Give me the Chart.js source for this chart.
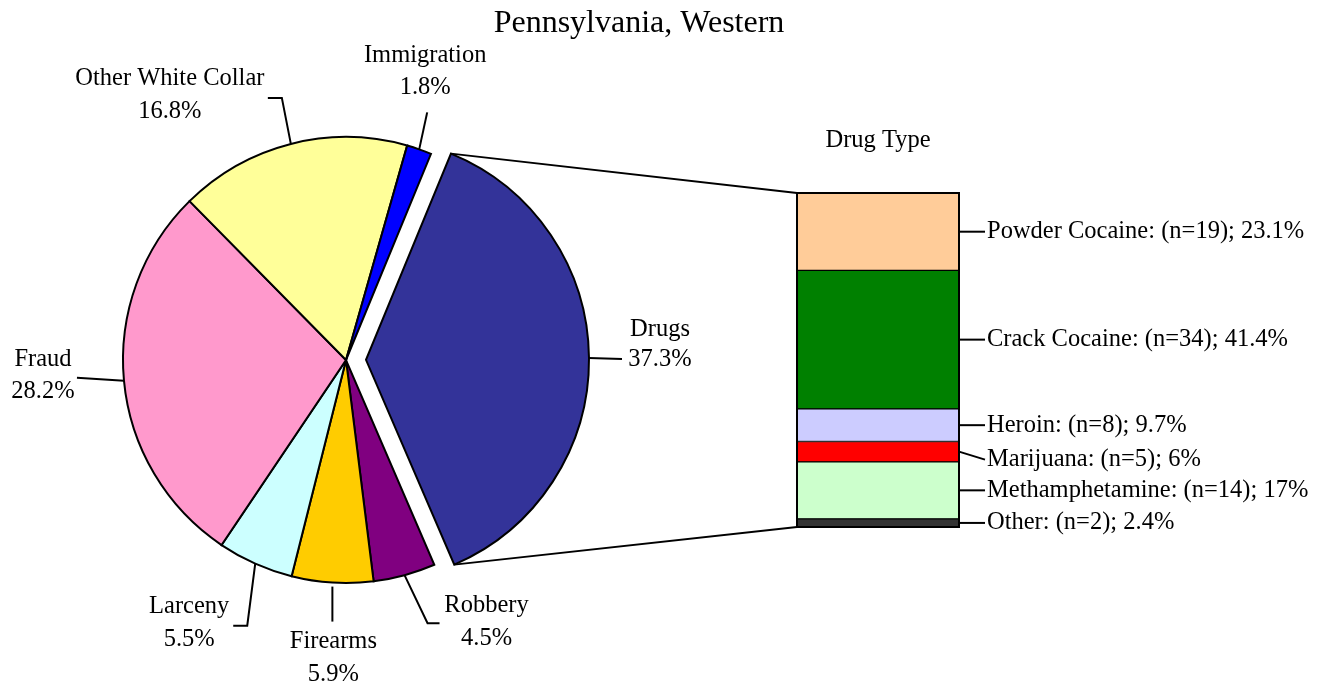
<!DOCTYPE html>
<html>
<head>
<meta charset="utf-8">
<script src="https://cdn.jsdelivr.net/npm/chart.js@4.4.1/dist/chart.umd.min.js"></script>
<style>
  html, body { margin: 0; padding: 0; background: #ffffff; }
  #wrap { position: relative; width: 1333px; height: 688px; }
  #wrap canvas { position: absolute; left: 0; top: 0; }
</style>
</head>
<body>
<div id="wrap">
  <canvas id="pie" width="1333" height="688"></canvas>
  <canvas id="bar" width="1333" height="688"></canvas>
</div>
<script>
// ---------- DATA ----------
const chartTitle = 'Pennsylvania, Western';
const offenseLabels = ['Drugs', 'Robbery', 'Firearms', 'Larceny', 'Fraud', 'Other White Collar', 'Immigration'];
const offensePercents = [37.3, 4.5, 5.9, 5.5, 28.2, 16.8, 1.8];

const drugTitle = 'Drug Type';
const drugTypes = ['Powder Cocaine', 'Crack Cocaine', 'Heroin', 'Marijuana', 'Methamphetamine', 'Other'];
const drugCounts = [19, 34, 8, 5, 14, 2];
const drugPercents = [23.1, 41.4, 9.7, 6, 17, 2.4];

// ---------- STYLE ----------
const FONT = '"Liberation Serif", "Times New Roman", serif';
const LABEL_FONT = '24.5px ' + FONT;
const offenseColors = ['#333399', '#800080', '#FFCC00', '#CCFFFF', '#FF99CC', '#FFFF99', '#0000FF'];
const explode = [20, 0, 0, 0, 0, 0, 0];
const drugColors = ['#FFCC99', '#008000', '#CCCCFF', '#FF0000', '#CCFFCC', '#333333'];
// label layout: text centre offset (dx, dy of first line) from slice anchor, line gap, leader polyline offsets
const pieLabelLayout = [
  { dx: 71,   dy: -28, gap: 30, leader: [[33, 1]] },
  { dx: 82,   dy: 30,  gap: 33, leader: [[23, 48], [35, 48]] },
  { dx: 1,    dy: 59,  gap: 33, leader: [[0, 4], [0, 39]], skipAnchor: true },
  { dx: -66,  dy: 43,  gap: 33, leader: [[-8, 62], [-22, 62]] },
  { dx: -81,  dy: -21, gap: 32, leader: [[-47, -3]] },
  { dx: -121, dy: -65, gap: 33, leader: [[-9, -46], [-23, -46]] },
  { dx: 6,    dy: -94, gap: 32, leader: [[8, -37]] }
];
const drugLabelNudge = [0, 0, 0, 8, 0, 0];

// ---------- PIE ----------
const explodePlugin = {
  id: 'explodeDraw',
  beforeDatasetDraw(chart, args) {
    const ctx = chart.ctx;
    args.meta.data.forEach((arc, i) => {
      const mid = (arc.startAngle + arc.endAngle) / 2;
      const e = explode[i] || 0;
      ctx.save();
      ctx.translate(Math.cos(mid) * e, Math.sin(mid) * e);
      arc.draw(ctx);
      ctx.restore();
    });
    return false;
  }
};

const pieLabelPlugin = {
  id: 'pieLabels',
  afterDraw(chart) {
    const ctx = chart.ctx;
    ctx.save();
    // title
    ctx.fillStyle = '#000';
    ctx.font = '32px ' + FONT;
    ctx.textAlign = 'center';
    ctx.textBaseline = 'middle';
    ctx.fillText(chartTitle, 639, 24);

    const meta = chart.getDatasetMeta(0);
    ctx.font = LABEL_FONT;
    ctx.lineWidth = 2;
    ctx.strokeStyle = '#000';
    meta.data.forEach((arc, i) => {
      const mid = (arc.startAngle + arc.endAngle) / 2;
      const e = explode[i] || 0;
      const r = arc.outerRadius;
      const ax = arc.x + Math.cos(mid) * (r + e);
      const ay = arc.y + Math.sin(mid) * (r + e);
      const L = pieLabelLayout[i];
      ctx.beginPath();
      if (L.skipAnchor) {
        ctx.moveTo(ax + L.leader[0][0], ay + L.leader[0][1]);
        for (let k = 1; k < L.leader.length; k++) ctx.lineTo(ax + L.leader[k][0], ay + L.leader[k][1]);
      } else {
        ctx.moveTo(ax, ay);
        L.leader.forEach(p => ctx.lineTo(ax + p[0], ay + p[1]));
      }
      ctx.stroke();
      const tx = ax + L.dx, ty = ay + L.dy;
      ctx.fillText(offenseLabels[i], tx, ty);
      ctx.fillText(offensePercents[i] + '%', tx, ty + L.gap);
    });
    ctx.restore();
  }
};

const pieChart = new Chart(document.getElementById('pie'), {
  type: 'pie',
  data: {
    labels: offenseLabels,
    datasets: [{
      data: offensePercents,
      backgroundColor: offenseColors,
      borderColor: '#000000',
      borderWidth: 2,
      borderJoinStyle: 'miter',
      offset: 0
    }]
  },
  options: {
    responsive: false,
    animation: false,
    rotation: 22.4,
    radius: 223,
    layout: { padding: { left: 0, right: 641, top: 32, bottom: 0 } },
    plugins: { legend: { display: false }, tooltip: { enabled: false }, title: { display: false } },
    events: []
  },
  plugins: [explodePlugin, pieLabelPlugin]
});

// ---------- STACKED BAR ----------
const barOverlayPlugin = {
  id: 'barOverlay',
  afterDraw(chart) {
    const ctx = chart.ctx;
    ctx.save();
    ctx.strokeStyle = '#000';
    ctx.fillStyle = '#000';
    ctx.lineWidth = 1.8;
    const n = drugTypes.length;
    // datasets are reversed: dataset j corresponds to drug index n-1-j
    const elOf = i => chart.getDatasetMeta(n - 1 - i).data[0];
    const topEl = elOf(0), botEl = elOf(n - 1);
    const left = topEl.x - topEl.width / 2;
    const right = topEl.x + topEl.width / 2;
    const top = Math.min(topEl.y, topEl.base);
    const bottom = Math.max(botEl.y, botEl.base);

    // connector lines from exploded slice
    const arc = pieChart.getDatasetMeta(0).data[0];
    const mid = (arc.startAngle + arc.endAngle) / 2;
    const ex = Math.cos(mid) * explode[0], ey = Math.sin(mid) * explode[0];
    const r = arc.outerRadius;
    const p1 = [arc.x + ex + r * Math.cos(arc.startAngle), arc.y + ey + r * Math.sin(arc.startAngle)];
    const p2 = [arc.x + ex + r * Math.cos(arc.endAngle), arc.y + ey + r * Math.sin(arc.endAngle)];
    ctx.beginPath();
    ctx.moveTo(p1[0], p1[1]); ctx.lineTo(left, top);
    ctx.moveTo(p2[0], p2[1]); ctx.lineTo(left, bottom);
    ctx.stroke();

    // outer outline of the bar
    ctx.lineWidth = 2;
    ctx.strokeRect(left, top, right - left, bottom - top);

    // header
    ctx.font = LABEL_FONT;
    ctx.textAlign = 'center';
    ctx.textBaseline = 'middle';
    ctx.fillText(drugTitle, (left + right) / 2, top - 52);

    // segment labels
    ctx.textAlign = 'left';
    ctx.lineWidth = 2;
    for (let i = 0; i < n; i++) {
      const el = elOf(i);
      const yc = (el.y + el.base) / 2;
      const ty = yc + drugLabelNudge[i];
      ctx.beginPath();
      ctx.moveTo(right, yc);
      ctx.lineTo(right + 26, ty);
      ctx.stroke();
      ctx.fillText(drugTypes[i] + ': (n=' + drugCounts[i] + '); ' + drugPercents[i] + '%', right + 28, ty);
    }
    ctx.restore();
  }
};

const barDatasets = drugTypes.map((t, i) => ({
  label: t,
  data: [drugCounts[i]],
  backgroundColor: drugColors[i],
  borderColor: '#000000',
  borderWidth: 1,
  borderSkipped: false
})).reverse();

const barChart = new Chart(document.getElementById('bar'), {
  type: 'bar',
  data: { labels: [drugTitle], datasets: barDatasets },
  options: {
    responsive: false,
    animation: false,
    layout: { padding: { left: 797, right: 374, top: 193, bottom: 161 } },
    scales: {
      x: { stacked: true, display: false },
      y: { stacked: true, display: false, min: 0, max: drugCounts.reduce((a, b) => a + b, 0) }
    },
    datasets: { bar: { barPercentage: 1, categoryPercentage: 1 } },
    plugins: { legend: { display: false }, tooltip: { enabled: false }, title: { display: false } },
    events: []
  },
  plugins: [barOverlayPlugin]
});
</script>
</body>
</html>
